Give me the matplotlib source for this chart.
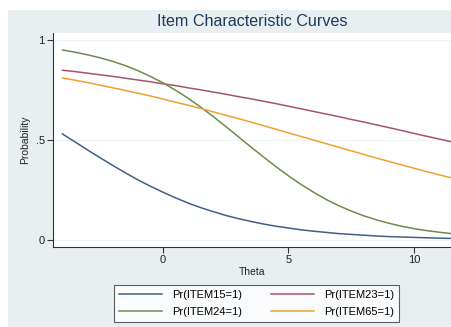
import numpy as np
import matplotlib
matplotlib.use('Agg')
import matplotlib.pyplot as plt
from matplotlib.patches import Rectangle

plt.rcParams['font.family'] = ['Liberation Sans', 'DejaVu Sans']

# Valores (passo de 0.5 em theta)
theta = [-4, -3.5, -3, -2.5, -2, -1.5, -1, -0.5, 0, 0.5, 1, 1.5, 2, 2.5, 3, 3.5,
         4, 4.5, 5, 5.5, 6, 6.5, 7, 7.5, 8, 8.5, 9, 9.5, 10, 10.5, 11, 11.5]
item15 = [0.530, 0.490, 0.450, 0.411, 0.373, 0.336, 0.301, 0.269, 0.239, 0.211,
          0.185, 0.162, 0.142, 0.123, 0.107, 0.093, 0.080, 0.069, 0.060, 0.051,
          0.044, 0.038, 0.032, 0.028, 0.024, 0.020, 0.017, 0.015, 0.013, 0.011,
          0.009, 0.008]
item23 = [0.849, 0.842, 0.834, 0.826, 0.818, 0.809, 0.800, 0.791, 0.781, 0.772,
          0.761, 0.751, 0.740, 0.729, 0.717, 0.706, 0.694, 0.682, 0.669, 0.656,
          0.643, 0.630, 0.617, 0.603, 0.590, 0.576, 0.562, 0.548, 0.533, 0.519,
          0.505, 0.491]
item24 = [0.950, 0.939, 0.926, 0.911, 0.893, 0.872, 0.847, 0.818, 0.786, 0.749,
          0.709, 0.665, 0.618, 0.568, 0.517, 0.466, 0.416, 0.367, 0.321, 0.278,
          0.239, 0.203, 0.172, 0.145, 0.121, 0.101, 0.084, 0.069, 0.057, 0.047,
          0.039, 0.032]
item65 = [0.810, 0.799, 0.787, 0.774, 0.761, 0.748, 0.734, 0.720, 0.705, 0.689,
          0.674, 0.658, 0.641, 0.624, 0.607, 0.590, 0.572, 0.554, 0.536, 0.518,
          0.500, 0.482, 0.464, 0.446, 0.428, 0.410, 0.393, 0.376, 0.359, 0.342,
          0.326, 0.311]

labels = ['Pr(ITEM15=1)', 'Pr(ITEM23=1)', 'Pr(ITEM24=1)', 'Pr(ITEM65=1)']
series = [item15, item23, item24, item65]
cores = ['#3f5f8a', '#a8526a', '#6f8a4f', '#f0a030']

W, H = 452, 327
fig = plt.figure(figsize=(W / 100, H / 100), dpi=100)
fig.patch.set_facecolor('white')
fig.patches.append(Rectangle((8 / W, 0), 1, 1 - 10 / H, transform=fig.transFigure,
                             facecolor='#e9eff1', edgecolor='none', zorder=-10))

ax = fig.add_axes([53 / W, 1 - 247 / H, 1 - 53 / W, 214 / H])
ax.set_facecolor('white')

linhas = []
for y, c, lab in zip(series, cores, labels):
    l, = ax.plot(theta, y, color=c, lw=1.1, label=lab)
    linhas.append(l)

ax.set_xlim(-4.38, 11.52)
ax.set_ylim(-0.035, 1.035)
ax.set_xticks([0, 5, 10])
ax.set_yticks([0, 0.5, 1])
ax.set_yticklabels(['0', '.5', '1'])
ax.grid(axis='y', color='#eef3f4', lw=0.8)
ax.set_axisbelow(True)

for s in ['top', 'right']:
    ax.spines[s].set_visible(False)
for s in ['left', 'bottom']:
    ax.spines[s].set_color('#333333')
    ax.spines[s].set_linewidth(0.8)
ax.tick_params(direction='out', length=4, width=0.8, color='#333333',
               labelsize=8, labelcolor='#222222', pad=2)

ax.set_title('Item Characteristic Curves', fontsize=11.6, color='#1e3a5a', pad=5)
ax.set_xlabel('Theta', fontsize=7.5, color='#222222', labelpad=1)
ax.set_ylabel('Probability', fontsize=7.5, color='#222222', labelpad=4)

# ordem da legenda: 15, 23 na primeira linha; 24, 65 na segunda
ordem = [0, 2, 1, 3]
leg = fig.legend(handles=[linhas[i] for i in ordem], labels=[labels[i] for i in ordem],
                 ncol=2, loc='center', bbox_to_anchor=(256.5 / W, 1 - 303.5 / H),
                 fontsize=8, frameon=True, fancybox=False, handlelength=3.9,
                 columnspacing=2.6, handletextpad=0.9, borderpad=0.45,
                 labelspacing=0.6)
leg.get_frame().set_edgecolor('#333333')
leg.get_frame().set_linewidth(0.8)

fig.savefig('out.png', dpi=100)
